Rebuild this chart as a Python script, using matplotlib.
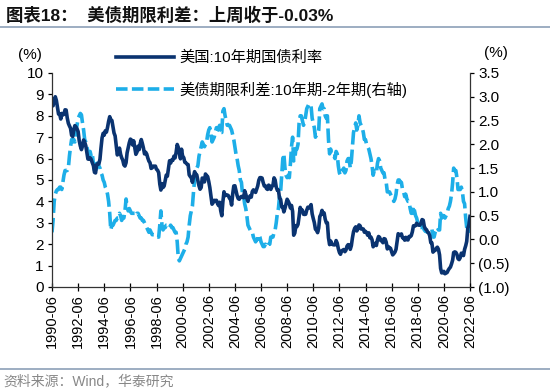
import pandas as pd
import matplotlib
matplotlib.use('Agg')
import matplotlib.pyplot as plt
import matplotlib.dates as mdates
from matplotlib.lines import Line2D
from matplotlib.ticker import FuncFormatter

plt.rcParams['font.family'] = ['Liberation Sans', 'Noto Sans CJK SC', 'DejaVu Sans']

# monthly values, starting 1990-06
start_month = '1990-06-01'

yield_10y = [
    8.48, 8.47, 8.75, 8.89, 8.72, 8.39, 8.08,
    8.09, 7.85, 8.11, 8.04, 8.07, 8.28, 8.27, 7.90, 7.65, 7.53, 7.42, 7.09,
    7.03, 7.34, 7.54, 7.48, 7.39, 7.26, 6.84, 6.59, 6.42, 6.59, 6.87, 6.77,
    6.60, 6.26, 5.98, 5.97, 6.04, 5.96, 5.81, 5.68, 5.36, 5.33, 5.72, 5.77,
    5.75, 5.97, 6.48, 6.97, 7.18, 7.10, 7.30, 7.24, 7.46, 7.74, 7.96, 7.81,
    7.78, 7.47, 7.20, 7.06, 6.63, 6.17, 6.28, 6.49, 6.20, 6.04, 5.93, 5.71,
    5.65, 5.81, 6.27, 6.51, 6.74, 6.91, 6.87, 6.64, 6.83, 6.53, 6.20, 6.30,
    6.58, 6.42, 6.69, 6.89, 6.71, 6.49, 6.22, 6.30, 6.21, 6.03, 5.88, 5.81,
    5.54, 5.57, 5.65, 5.64, 5.65, 5.50, 5.46, 5.34, 4.81, 4.53, 4.83, 4.65,
    4.72, 5.00, 5.23, 5.18, 5.54, 5.90, 5.79, 5.94, 5.92, 6.11, 6.03, 6.28,
    6.66, 6.52, 6.26, 5.99, 6.44, 6.10, 6.05, 5.83, 5.80, 5.74, 5.72, 5.24,
    5.16, 5.10, 4.89, 5.14, 5.39, 5.28, 5.24, 4.97, 4.73, 4.57, 4.65, 5.09,
    5.04, 4.91, 5.28, 5.21, 5.16, 4.93, 4.65, 4.26, 3.87, 3.94, 4.05, 4.03,
    4.05, 3.90, 3.81, 3.96, 3.57, 3.33, 3.98, 4.45, 4.27, 4.29, 4.30, 4.27,
    4.15, 4.08, 3.83, 4.35, 4.72, 4.73, 4.50, 4.28, 4.13, 4.10, 4.19, 4.23,
    4.22, 4.17, 4.50, 4.34, 4.14, 4.00, 4.18, 4.26, 4.20, 4.46, 4.54, 4.47,
    4.42, 4.57, 4.72, 4.99, 5.11, 5.11, 5.09, 4.88, 4.72, 4.73, 4.60, 4.56,
    4.76, 4.72, 4.56, 4.69, 4.75, 5.10, 5.00, 4.67, 4.52, 4.53, 4.15, 4.10,
    3.74, 3.74, 3.51, 3.68, 3.88, 4.10, 4.01, 3.89, 3.69, 3.81, 3.53, 2.42,
    2.52, 2.87, 2.82, 2.93, 3.29, 3.72, 3.56, 3.59, 3.40, 3.39, 3.40, 3.59,
    3.73, 3.69, 3.73, 3.85, 3.42, 3.20, 3.01, 2.70, 2.65, 2.54, 2.76, 3.29,
    3.39, 3.58, 3.41, 3.46, 3.17, 3.00, 3.00, 2.30, 1.98, 2.15, 2.01, 1.98,
    1.97, 1.97, 2.17, 2.05, 1.80, 1.62, 1.53, 1.68, 1.72, 1.75, 1.65, 1.72,
    1.91, 1.98, 1.96, 1.76, 1.93, 2.30, 2.58, 2.74, 2.81, 2.62, 2.72, 2.90,
    2.86, 2.71, 2.72, 2.71, 2.56, 2.60, 2.54, 2.42, 2.53, 2.30, 2.33, 2.21,
    1.88, 1.98, 2.04, 1.94, 2.20, 2.36, 2.32, 2.17, 2.17, 2.07, 2.26, 2.24,
    2.09, 1.78, 1.89, 1.81, 1.81, 1.64, 1.50, 1.56, 1.63, 1.76, 2.14, 2.49,
    2.43, 2.42, 2.48, 2.30, 2.30, 2.19, 2.32, 2.21, 2.20, 2.36, 2.35, 2.40,
    2.58, 2.86, 2.84, 2.87, 2.98, 2.91, 2.89, 2.89, 3.00, 3.15, 3.12, 2.83,
    2.71, 2.68, 2.57, 2.53, 2.40, 2.07, 2.06, 1.63, 1.70, 1.71, 1.81, 1.86,
    1.76, 1.50, 0.87, 0.66, 0.67, 0.73, 0.62, 0.65, 0.68, 0.79, 0.87, 0.93,
    1.08, 1.26, 1.61, 1.64, 1.62, 1.52, 1.32, 1.28, 1.37, 1.58, 1.56, 1.47,
    1.76, 1.93, 2.13, 2.75, 2.90, 3.30,
]

spread_10y2y = [
    0.15, 0.40, 0.80, 0.95, 1.02, 1.05, 1.05,
    1.10, 1.10, 1.05, 1.20, 1.35, 1.45, 1.45, 1.45, 1.50, 1.75, 1.95, 2.10,
    2.05, 2.10, 2.05, 2.30, 2.40, 2.55, 2.60, 2.65, 2.62, 2.45, 2.30, 2.10,
    2.05, 1.95, 1.85, 1.80, 1.85, 1.75, 1.80, 1.60, 1.45, 1.40, 1.60, 1.60,
    1.55, 1.50, 1.40, 1.35, 1.25, 1.20, 1.10, 1.05, 0.95, 0.80, 0.55, 0.20,
    0.30, 0.30, 0.35, 0.40, 0.40, 0.45, 0.45, 0.55, 0.50, 0.40, 0.45, 0.45,
    0.60, 0.85, 0.70, 0.60, 0.65, 0.60, 0.55, 0.55, 0.55, 0.55, 0.50, 0.55,
    0.55, 0.50, 0.45, 0.45, 0.40, 0.40, 0.35, 0.30, 0.25, 0.20, 0.15, 0.20,
    0.15, 0.10, 0.10, 0.10, 0.05, 0.05, 0.05, 0.05, 0.30, 0.60, 0.30, 0.20,
    0.25, 0.25, 0.30, 0.30, 0.30, 0.25, 0.30, 0.25, 0.25, 0.20, 0.15, 0.15,
    -0.05, -0.40, -0.45, -0.40, -0.35, -0.30, -0.25, -0.20, -0.10, -0.05, 0.05, 0.30,
    0.50, 0.60, 0.70, 1.00, 1.25, 1.40, 1.50, 1.55, 1.75, 1.85, 1.95, 2.05,
    2.00, 1.95, 2.00, 2.05, 2.20, 2.30, 2.35, 2.20, 2.05, 2.10, 2.15, 2.25,
    2.35, 2.35, 2.30, 2.40, 2.25, 2.25, 2.70, 2.75, 2.60, 2.50, 2.40, 2.40,
    2.40, 2.35, 2.30, 2.20, 2.10, 1.95, 1.80, 1.70, 1.55, 1.45, 1.25, 1.20,
    0.95, 0.90, 0.75, 0.65, 0.50, 0.30, 0.25, 0.20, 0.15, 0.15, 0.05, 0.00,
    -0.05, 0.00, 0.00, 0.10, 0.05, -0.05, -0.10, -0.15, -0.15, -0.10, -0.15, -0.15,
    -0.10, -0.10, 0.05, 0.05, 0.05, 0.15, 0.20, 0.35, 0.55, 0.65, 0.90, 1.00,
    1.35, 1.70, 1.80, 1.50, 1.35, 1.30, 1.35, 1.30, 1.60, 1.95, 2.15, 1.65,
    1.70, 1.90, 1.90, 2.00, 2.45, 2.60, 2.60, 2.50, 2.40, 2.45, 2.60, 2.75,
    2.80, 2.85, 2.80, 2.80, 2.55, 2.45, 2.35, 2.15, 2.20, 2.20, 2.30, 2.75,
    2.80, 2.85, 2.75, 2.75, 2.60, 2.55, 2.60, 2.10, 1.80, 1.90, 1.75, 1.75,
    1.75, 1.70, 1.85, 1.80, 1.55, 1.40, 1.35, 1.45, 1.45, 1.50, 1.40, 1.45,
    1.65, 1.70, 1.70, 1.50, 1.65, 1.95, 2.25, 2.35, 2.45, 2.30, 2.40, 2.60,
    2.45, 2.40, 2.35, 2.25, 2.10, 2.10, 2.00, 1.95, 1.90, 1.80, 1.70, 1.55,
    1.35, 1.45, 1.45, 1.40, 1.60, 1.70, 1.65, 1.50, 1.45, 1.40, 1.40, 1.25,
    1.20, 1.00, 1.00, 1.00, 0.95, 0.90, 0.85, 0.80, 0.85, 0.95, 1.15, 1.25,
    1.25, 1.20, 1.20, 1.05, 1.00, 0.90, 0.95, 0.85, 0.80, 0.80, 0.65, 0.55,
    0.55, 0.70, 0.60, 0.50, 0.45, 0.35, 0.30, 0.25, 0.25, 0.30, 0.25, 0.20,
    0.17, 0.17, 0.15, 0.20, 0.20, 0.22, 0.22, 0.05, 0.05, 0.15, 0.20, 0.25,
    0.20, 0.20, 0.55, 0.45, 0.50, 0.50, 0.45, 0.50, 0.55, 0.65, 0.70, 0.80,
    0.95, 1.20, 1.50, 1.45, 1.45, 1.30, 1.05, 1.05, 1.05, 1.10, 1.00, 0.80,
    0.75, 0.45, 0.25, 0.15, 0.30, 0.05,
]

dates = pd.date_range(start_month, periods=len(yield_10y), freq='MS')

title = '图表18：  美债期限利差：上周收于-0.03%'
label_10y = '美国:10年期国债利率'
label_spread = '美债期限利差:10年期-2年期(右轴)'
source = '资料来源：Wind，华泰研究'

dark = '#0A3370'
light = '#1DAEE8'
rule = '#8C9FB8'

fig = plt.figure(figsize=(5.5, 3.92), dpi=100)
ax = fig.add_axes([52 / 550, 1 - 287 / 392, 418 / 550, 214 / 392])
ax2 = ax.twinx()

ax2.plot(dates, spread_10y2y, color=light, lw=2.6, dashes=(4, 1.4))
ax.plot(dates, yield_10y, color=dark, lw=2.6)
ax.set_zorder(ax2.get_zorder() + 1)
ax.patch.set_visible(False)

ax.set_ylim(0, 10)
ax.set_yticks(range(0, 11))
ax2.set_ylim(-1.0, 3.5)
ax2.set_yticks([-1.0, -0.5, 0, 0.5, 1.0, 1.5, 2.0, 2.5, 3.0, 3.5])
ax2.yaxis.set_major_formatter(FuncFormatter(
    lambda v, p: f'({abs(v):.1f})' if v < 0 else f'{v:.1f}'))

ax.set_xlim(dates[0], dates[-1])
ax.xaxis.set_major_locator(mdates.MonthLocator(bymonth=6, bymonthday=1, interval=24))
ax.xaxis.set_major_formatter(mdates.DateFormatter('%Y-%m'))

for a in (ax, ax2):
    a.spines['top'].set_visible(False)
    for s in a.spines.values():
        s.set_color('#333333')
        s.set_linewidth(0.9)
ax.spines['right'].set_visible(False)
ax2.spines['left'].set_visible(False)
ax2.spines['bottom'].set_visible(False)

ax.tick_params(axis='y', labelsize=11, length=3, width=0.9, pad=3)
ax2.tick_params(axis='y', labelsize=11, length=3, width=0.9, pad=3)
ax.tick_params(axis='x', labelsize=10.5, length=6, width=0.9, direction='inout',
               rotation=90, pad=2)

fig.text(18 / 550, 1 - 55 / 392, '(%)', fontsize=11, va='center')
fig.text(484 / 550, 1 - 53 / 392, '(%)', fontsize=11, va='center')

handles = [Line2D([], [], color=dark, lw=2.6),
           Line2D([], [], color=light, lw=2.6, dashes=(3.2, 1.2))]
fig.legend(handles, [label_10y, label_spread], loc='upper left',
           bbox_to_anchor=(116 / 550, 1 - 51 / 392), frameon=False,
           fontsize=11, handlelength=3.8, handletextpad=0.35,
           labelspacing=1.05, borderaxespad=0, borderpad=0)

fig.text(6 / 550, 1 - 15 / 392, title, fontsize=12.5, fontweight='bold',
         va='center', color='#111111')
fig.add_artist(Line2D([0, 1], [1 - 27 / 392, 1 - 27 / 392], color=rule, lw=1.2))
fig.add_artist(Line2D([0, 1], [1 - 369 / 392, 1 - 369 / 392], color=rule, lw=1.2))
fig.text(3 / 550, 1 - 381 / 392, source, fontsize=10, va='center', color='#888888')

fig.savefig('out.png', dpi=100)
